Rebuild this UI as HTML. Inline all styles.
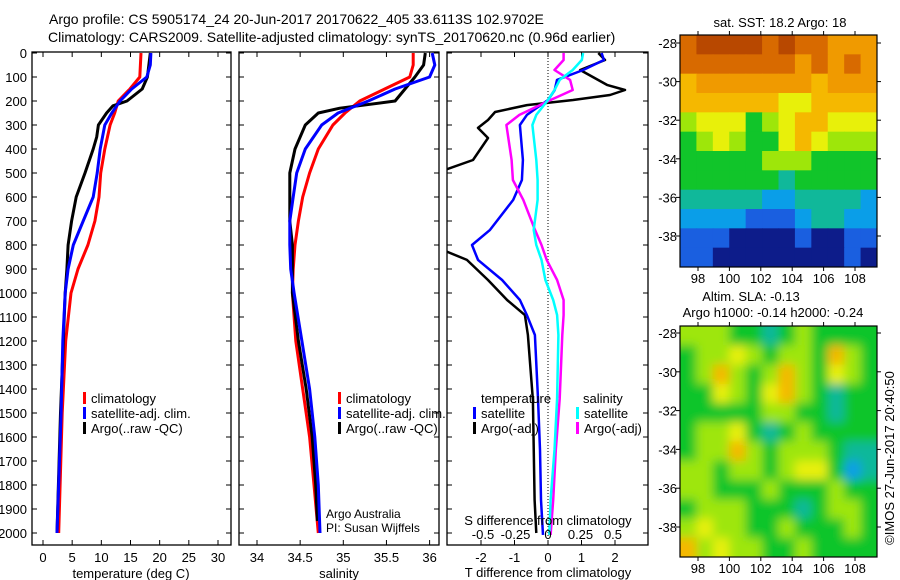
<!DOCTYPE html>
<html><head><meta charset="utf-8">
<style>
body{margin:0;background:#fff;}
svg{display:block;font-family:"Liberation Sans",sans-serif;}
text{fill:#000;}
</style></head>
<body>
<svg id="fig" width="900" height="580" viewBox="0 0 900 580" xmlns="http://www.w3.org/2000/svg">
<text x="49" y="24" font-size="14">Argo profile: CS 5905174_24 20-Jun-2017 20170622_405 33.6113S 102.9702E</text>
<text x="48" y="42" font-size="14">Climatology: CARS2009. Satellite-adjusted climatology: synTS_20170620.nc (0.96d earlier)</text>
<g id="g1"></g>
<g id="g2"></g>
<g id="g3"></g>
<g id="m1"></g>
<g id="m2"></g>
<text x="751" y="301" font-size="13" text-anchor="middle">Altim. SLA: -0.13</text>
<text x="773" y="317" font-size="13" text-anchor="middle">Argo h1000: -0.14 h2000: -0.24</text>
<text x="780" y="27" font-size="13" text-anchor="middle">sat. SST: 18.2 Argo: 18</text>
<text transform="translate(894,458) rotate(-90)" font-size="13" text-anchor="middle">©IMOS 27-Jun-2017 20:40:50</text>
<text x="326" y="518" font-size="12">Argo Australia</text>
<text x="326" y="532" font-size="12">PI: Susan Wijffels</text>
</svg>
<script>
// ---- data ----
const depthTicks=[0,100,200,300,400,500,600,700,800,900,1000,1100,1200,1300,1400,1500,1600,1700,1800,1900,2000];
const tDepth=[0,50,100,150,200,250,300,400,500,600,700,800,900,1000,1200,1500,2000];
const tClim=[16.8,16.7,16.6,14.9,12.9,12.3,11.5,10.6,9.9,9.6,8.9,7.7,6.0,4.8,3.9,3.3,2.7];
const tSat=[18.5,18.4,17.8,15.2,13.2,11.8,10.6,9.8,9.3,8.6,6.9,5.2,4.3,3.8,3.4,3.1,2.4];
const aDepth=[0,100,150,200,220,250,300,350,400,500,600,700,800,900,1000,1500,2000];
const tArgo=[18.4,17.9,17.0,14.4,12.0,10.9,9.5,9.2,8.6,7.2,5.7,4.9,4.3,4.1,3.8,3.0,2.4];
const sDepth=[0,50,100,150,200,250,300,400,500,600,700,800,900,1000,1200,1400,1600,1800,2000];
const sClim=[35.81,35.81,35.77,35.48,35.19,35.02,34.88,34.71,34.61,34.53,34.48,34.44,34.42,34.41,34.45,34.53,34.61,34.66,34.71];
const sSat=[36.03,36.06,36.0,35.6,35.29,34.94,34.75,34.56,34.46,34.42,34.38,34.38,34.39,34.43,34.52,34.61,34.67,34.71,34.73];
const saDepth=[0,50,100,200,230,250,300,400,500,600,700,800,900,1000,1200,1400,1600,1800,1950];
const sArgo=[35.95,35.93,35.83,35.6,34.96,34.71,34.56,34.44,34.38,34.38,34.38,34.41,34.41,34.41,34.48,34.57,34.64,34.68,34.70];
const dDepth=[0,29,71,112,154,196,258,300,446,529,612,737,800,862,946,1029,1092,1175,1440,1654,1862,2008];
const dTsat=[1.6,1.67,1.05,0.27,0.2,0,-0.63,-0.84,-0.75,-0.78,-1.04,-1.73,-2.27,-2.09,-1.37,-0.84,-0.63,-0.39,-0.3,-0.24,-0.21,-0.15];
const daDepth=[0,29,71,133,154,175,196,217,246,279,312,354,446,508,800,862,946,1029,1092,1175,1446,1862,2000];
const dTargo=[1.5,1.7,0.96,1.76,2.3,1.85,0.75,-0.63,-1.58,-1.79,-2.09,-1.79,-2.24,-3.5,-3.5,-2.42,-1.79,-1.22,-0.69,-0.6,-0.45,-0.4,-0.35];
const dSsat=[0.27,0.26,0.19,0.09,0.05,0,-0.09,-0.12,-0.09,-0.08,-0.08,-0.11,-0.09,-0.05,-0.02,0.04,0.07,0.08,0.07,0.05,0.02,0.01];
const dSargo=[0.12,0.12,0.05,0.17,0.19,0.02,-0.22,-0.32,-0.28,-0.27,-0.19,-0.1,-0.05,-0.01,0.07,0.12,0.12,0.11,0.09,0.06,0.04,0.02];
const lonTicks=[98,100,102,104,106,108];
const latTicks=[-28,-30,-32,-34,-36,-38];
const sstGrid=[
[8,9,9,9,9,8,9,8,8,7,7,7],
[8,8,8,8,8,8,8,7,8,7,8,7],
[6,7,7,7,7,7,7,7,6,7,7,7],
[6,6,6,6,6,6,5,5,6,6,6,6],
[4,5,5,5,3,4,5,6,6,5,5,5],
[3,4,5,4,3,3,5,6,5,4,4,4],
[3,3,3,3,3,4,4,4,3,3,3,3],
[3,3,3,3,3,3,2,3,3,3,3,3],
[2,2,2,2,2,1.5,1.5,2,2,2,2,1.5],
[1.5,1.5,1.5,1.5,1,1,1,1.5,2,2,1.5,1.5],
[1,1,1,0,0,0,0,1,0,0,1,1],
[1,1,0,0,0,0,0,0,0,0,1,0]];
const slaGrid=[
[4,4,4,3,3,2,3,4,3,3,3,3],
[3,4,4,5,4,3,4,4,3,6,4,3],
[3,4,6,4,3,4,6,4,3,5,4,3],
[3,3,5,4,3,5,6,4,3,2,3,3],
[3,3,3,3,3,4,4,3,3,2,3,3],
[3,4,4,5,3,2,3,4,3,3,3,3],
[3,4,4,6,4,3,4,4,4,3,2,2],
[4,4,3,4,4,3,4,5,5,3,1.5,2],
[4,4,3,3,3,4,3,3,3,4,3,3],
[3,4,4,4,3,3,3,2,3,4,4,3],
[4,5,4,4,3,3,4,3,3,3,4,3],
[6,4,5,4,4,3,3,4,3,3,3,3]];

const NS="http://www.w3.org/2000/svg";
function mk(p,tag,at){const e=document.createElementNS(NS,tag);for(const k in at)e.setAttribute(k,at[k]);p.appendChild(e);return e;}
const Y0=53,PY=0.24,BOT=545,TOP=52;
const yD=d=>Y0+d*PY;

function frame(g,x0,x1,xt,xs,labels,ticksLab,name){
  const r=mk(g,'rect',{x:x0,y:TOP,width:x1-x0,height:BOT-TOP,fill:'none',stroke:'#000','stroke-width':1.3});
  
  
  depthTicks.forEach(d=>{
    mk(g,'line',{x1:x0,x2:x0+5,y1:yD(d),y2:yD(d),stroke:'#000'});
    mk(g,'line',{x1:x1,x2:x1-5,y1:yD(d),y2:yD(d),stroke:'#000'});
    if(labels){const t=mk(g,'text',{x:x0-5,y:yD(d)+5,'font-size':13,'text-anchor':'end'});t.textContent=d;
      
      }
  });
  xt.forEach(v=>{const x=xs(v);
    mk(g,'line',{x1:x,x2:x,y1:TOP,y2:TOP+5,stroke:'#000'});
    mk(g,'line',{x1:x,x2:x,y1:BOT,y2:BOT-5,stroke:'#000'});
    if(ticksLab){const t=mk(g,'text',{x:x,y:562,'font-size':13,'text-anchor':'middle'});t.textContent=v;
      
      }
  });
}
function line(g,xs,vals,deps,col,w,name,clip){
  const pts=vals.map((v,i)=>xs(v).toFixed(1)+','+yD(deps[i]).toFixed(1)).join(' ');
  const p=mk(g,'polyline',{points:pts,fill:'none',stroke:col,'stroke-width':w,'stroke-linejoin':'round'});
  if(clip)p.setAttribute('clip-path',clip);
  
  
}
function legend(g,x,y,items,name){
  items.forEach((it,i)=>{
    mk(g,'rect',{x:x,y:y+i*15-6,width:3,height:12,fill:it[0]});
    const t=mk(g,'text',{x:x+8,y:y+i*15+5,'font-size':13});t.textContent=it[1];
    
    
  });
}
// panel 1
const g1=document.getElementById('g1');
const xT=v=>43+v*5.833;
frame(g1,32,231,[0,5,10,15,20,25,30],xT,true,true,'temperature');
line(g1,xT,tClim,tDepth,'#f00',3,'temp-climatology-line');
line(g1,xT,tArgo,aDepth,'#000',3,'temp-argo-line');
line(g1,xT,tSat,tDepth,'#00f',3,'temp-satellite-line');
legend(g1,83,398,[['#f00','climatology'],['#00f','satellite-adj. clim.'],['#000','Argo(..raw -QC)']],'temp-legend');
let t=mk(g1,'text',{x:131,y:578,'font-size':13,'text-anchor':'middle'});t.textContent='temperature (deg C)';


// panel 2
const g2=document.getElementById('g2');
const xS=v=>257+(v-34)*86.3;
frame(g2,239,439,[34,34.5,35,35.5,36],xS,false,true,'salinity');
line(g2,xS,sClim,sDepth,'#f00',3,'sal-climatology-line');
line(g2,xS,sArgo,saDepth,'#000',3,'sal-argo-line');
line(g2,xS,sSat,sDepth,'#00f',3,'sal-satellite-line');
legend(g2,338,398,[['#f00','climatology'],['#00f','satellite-adj. clim.'],['#000','Argo(..raw -QC)']],'sal-legend');
t=mk(g2,'text',{x:339,y:578,'font-size':13,'text-anchor':'middle'});t.textContent='salinity';


// panel 3
const g3=document.getElementById('g3');
const xdT=v=>548+v*33.5, xdS=v=>548+v*130;
const defs=mk(g3,'defs',{});const cp=mk(defs,'clipPath',{id:'c3'});mk(cp,'rect',{x:447,y:TOP,width:201,height:BOT-TOP});
frame(g3,447,648,[-2,-1,0,1,2],xdT,false,true,'difference');
mk(g3,'line',{x1:548,x2:548,y1:TOP,y2:BOT,stroke:'#000','stroke-dasharray':'1,2'});
line(g3,xdT,dTargo,daDepth,'#000',2.5,'tdiff-argo-line','url(#c3)');
line(g3,xdT,dTsat,dDepth,'#00f',2.5,'tdiff-satellite-line','url(#c3)');
line(g3,xdS,dSargo,dDepth,'#f0f',2.5,'sdiff-argo-line','url(#c3)');
line(g3,xdS,dSsat,dDepth,'#0ff',2.5,'sdiff-satellite-line','url(#c3)');
t=mk(g3,'text',{x:481,y:403,'font-size':13});t.textContent='temperature';


t=mk(g3,'text',{x:583,y:403,'font-size':13});t.textContent='salinity';


legend(g3,473,413,[['#00f','satellite'],['#000','Argo(-adj)']],'tdiff-legend');
legend(g3,576,413,[['#0ff','satellite'],['#f0f','Argo(-adj)']],'sdiff-legend');
const sLab=[-0.5,-0.25,0,0.25,0.5];
sLab.forEach(v=>{const tt=mk(g3,'text',{x:xdS(v),y:539,'font-size':13,'text-anchor':'middle'});tt.textContent=v;
  
  });
t=mk(g3,'text',{x:548,y:525,'font-size':13,'text-anchor':'middle'});t.textContent='S difference from climatology';


t=mk(g3,'text',{x:548,y:577,'font-size':13,'text-anchor':'middle'});t.textContent='T difference from climatology';



// maps
const stops=[[0,[13,28,138]],[1,[26,95,224]],[1.5,[10,158,232]],[2,[16,184,154]],[3,[17,197,42]],[4,[158,230,10]],[5,[232,240,10]],[6,[245,184,0]],[7,[240,154,0]],[8,[216,106,0]],[9,[184,72,0]]];
function col(v){for(let i=1;i<stops.length;i++){if(v<=stops[i][0]){const a=stops[i-1],b=stops[i],f=(v-a[0])/(b[0]-a[0]);return 'rgb('+a[1].map((c,k)=>Math.round(c+(b[1][k]-c)*f)).join(',')+')';}}return 'rgb(184,72,0)';}
function map(id,grid,y0,y1,latY,blur,name){
  const g=document.getElementById(id);const x0=680,x1=877;
  const lonX=l=>698+(l-98)*15.7;
  const d=mk(g,'defs',{});const c=mk(d,'clipPath',{id:'cl'+id});mk(c,'rect',{x:x0,y:y0,width:x1-x0,height:y1-y0});
  if(blur){const f=mk(d,'filter',{id:'bl'+id,x:'-10%',y:'-10%',width:'120%',height:'120%'});mk(f,'feGaussianBlur',{stdDeviation:5});}
  const outer=mk(g,'g',{'clip-path':'url(#cl'+id+')'});
  const inner=mk(outer,'g',blur?{filter:'url(#bl'+id+')'}:{});
  const nr=grid.length,nc=grid[0].length,cw=(x1-x0)/nc,ch=(y1-y0)/nr;
  grid.forEach((row,r)=>row.forEach((v,cI)=>{
    let x=x0+cI*cw,y=y0+r*ch,w=cw+0.6,h=ch+0.6;
    if(cI===0){x-=12;w+=12;} if(cI===nc-1)w+=12; if(r===0){y-=12;h+=12;} if(r===nr-1)h+=12;
    const cell=mk(inner,'rect',{x:x,y:y,width:w,height:h,fill:col(v)});
    
    
  }));
  mk(g,'rect',{x:x0,y:y0,width:x1-x0,height:y1-y0,fill:'none',stroke:'#000','stroke-width':1.2});
  lonTicks.forEach(l=>{const x=lonX(l);mk(g,'line',{x1:x,x2:x,y1:y0,y2:y0-4,stroke:'#000'});mk(g,'line',{x1:x,x2:x,y1:y1,y2:y1+4,stroke:'#000'});
    const tt=mk(g,'text',{x:x,y:y1+16,'font-size':13,'text-anchor':'middle'});tt.textContent=l;
    
    });
  latTicks.forEach(la=>{const y=latY(la);mk(g,'line',{x1:x0,x2:x0-4,y1:y,y2:y,stroke:'#000'});mk(g,'line',{x1:x1,x2:x1+4,y1:y,y2:y,stroke:'#000'});
    const tt=mk(g,'text',{x:x0-3,y:y+5,'font-size':13,'text-anchor':'end'});tt.textContent=la;
    
    });
}
map('m1',sstGrid,35,267,la=>43+(-28-la)*19.3,false,'sst');
map('m2',slaGrid,326,557,la=>333+(-28-la)*19.4,true,'sla');
</script>
</body></html>
